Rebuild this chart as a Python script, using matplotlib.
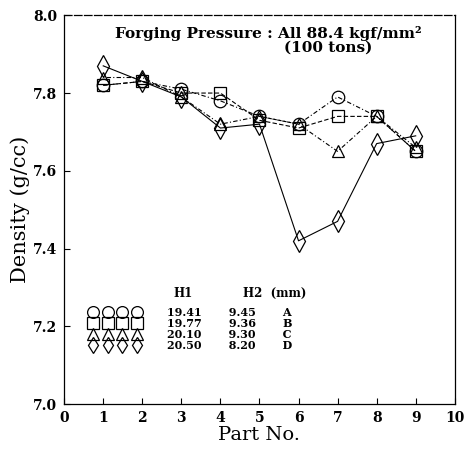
import matplotlib
matplotlib.use("Agg")
import matplotlib.pyplot as plt

plt.rcParams["font.family"] = ["DejaVu Serif"]

part_no = [1, 2, 3, 4, 5, 6, 7, 8, 9]
density_a = [7.82, 7.83, 7.81, 7.78, 7.74, 7.72, 7.79, 7.74, 7.65]
density_b = [7.82, 7.83, 7.80, 7.80, 7.73, 7.71, 7.74, 7.74, 7.65]
density_c = [7.84, 7.84, 7.79, 7.72, 7.74, 7.72, 7.65, 7.74, 7.66]
density_d = [7.87, 7.83, 7.79, 7.71, 7.72, 7.42, 7.47, 7.67, 7.69]

h1 = ["19.41", "19.77", "20.10", "20.50"]
h2 = ["9.45", "9.36", "9.30", "8.20"]
names = ["A", "B", "C", "D"]

fig = plt.figure(figsize=(4.65, 4.5), dpi=100)
ax = fig.add_axes([0.138, 0.102, 0.840, 0.864])

series = [
    (density_a, "o", 9, (0, (4, 2, 1, 2))),
    (density_b, "s", 8, (0, (4, 2))),
    (density_c, "^", 9, (0, (1, 2, 4, 2))),
    (density_d, "d", 11, "-"),
]
handles = []
for vals, mk, ms, ls in series:
    (ln,) = ax.plot(part_no, vals, color="black", linestyle=ls, linewidth=0.8,
                    marker=mk, markersize=ms, markerfacecolor="none",
                    markeredgecolor="black", markeredgewidth=0.9)
    handles.append(ln)

# legend: four overlapping markers per row, then the H1 / H2 table
pad = " " * 7
labels = [f"{a}{pad}{b}{pad}{n}" for a, b, n in zip(h1, h2, names)]
leg = ax.legend(handles, labels, loc="upper left", bbox_to_anchor=(0.066, 0.250),
                frameon=False, numpoints=4, handlelength=4.5, handletextpad=2.4,
                handleheight=0.6, labelspacing=0.0, borderpad=0, borderaxespad=0,
                prop={"weight": "bold", "size": 8})
for h in leg.legend_handles:
    h.set_linestyle("none")
    h.set_markersize(8.5)

ax.text(0.279, 0.285, "H1", transform=ax.transAxes, fontsize=8.5, weight="bold", va="center")
ax.text(0.458, 0.285, "H2  (mm)", transform=ax.transAxes, fontsize=8.5, weight="bold", va="center")

ax.text(0.522, 0.954, "Forging Pressure : All 88.4 kgf/mm²",
        transform=ax.transAxes, ha="center", va="center", fontsize=11, weight="bold")
ax.text(0.675, 0.918, "(100 tons)", transform=ax.transAxes, ha="center", va="center",
        fontsize=11, weight="bold")

ax.set_xlim(0, 10)
ax.set_ylim(7.0, 8.0)
ax.set_xticks(range(0, 11))
ax.set_yticks([7.0, 7.2, 7.4, 7.6, 7.8, 8.0])
ax.set_yticklabels(["7.0", "7.2", "7.4", "7.6", "7.8", "8.0"])
ax.tick_params(direction="in", length=4, width=0.8, labelsize=10, pad=5)
for lab in ax.get_xticklabels() + ax.get_yticklabels():
    lab.set_fontweight("bold")
ax.spines["top"].set_linestyle((0, (6, 2)))
for sp in ax.spines.values():
    sp.set_linewidth(0.9)

ax.set_xlabel("Part No.", fontsize=14, labelpad=1)
ax.set_ylabel("Density (g/cc)", fontsize=15, labelpad=2)

fig.savefig("out.png", dpi=100)
